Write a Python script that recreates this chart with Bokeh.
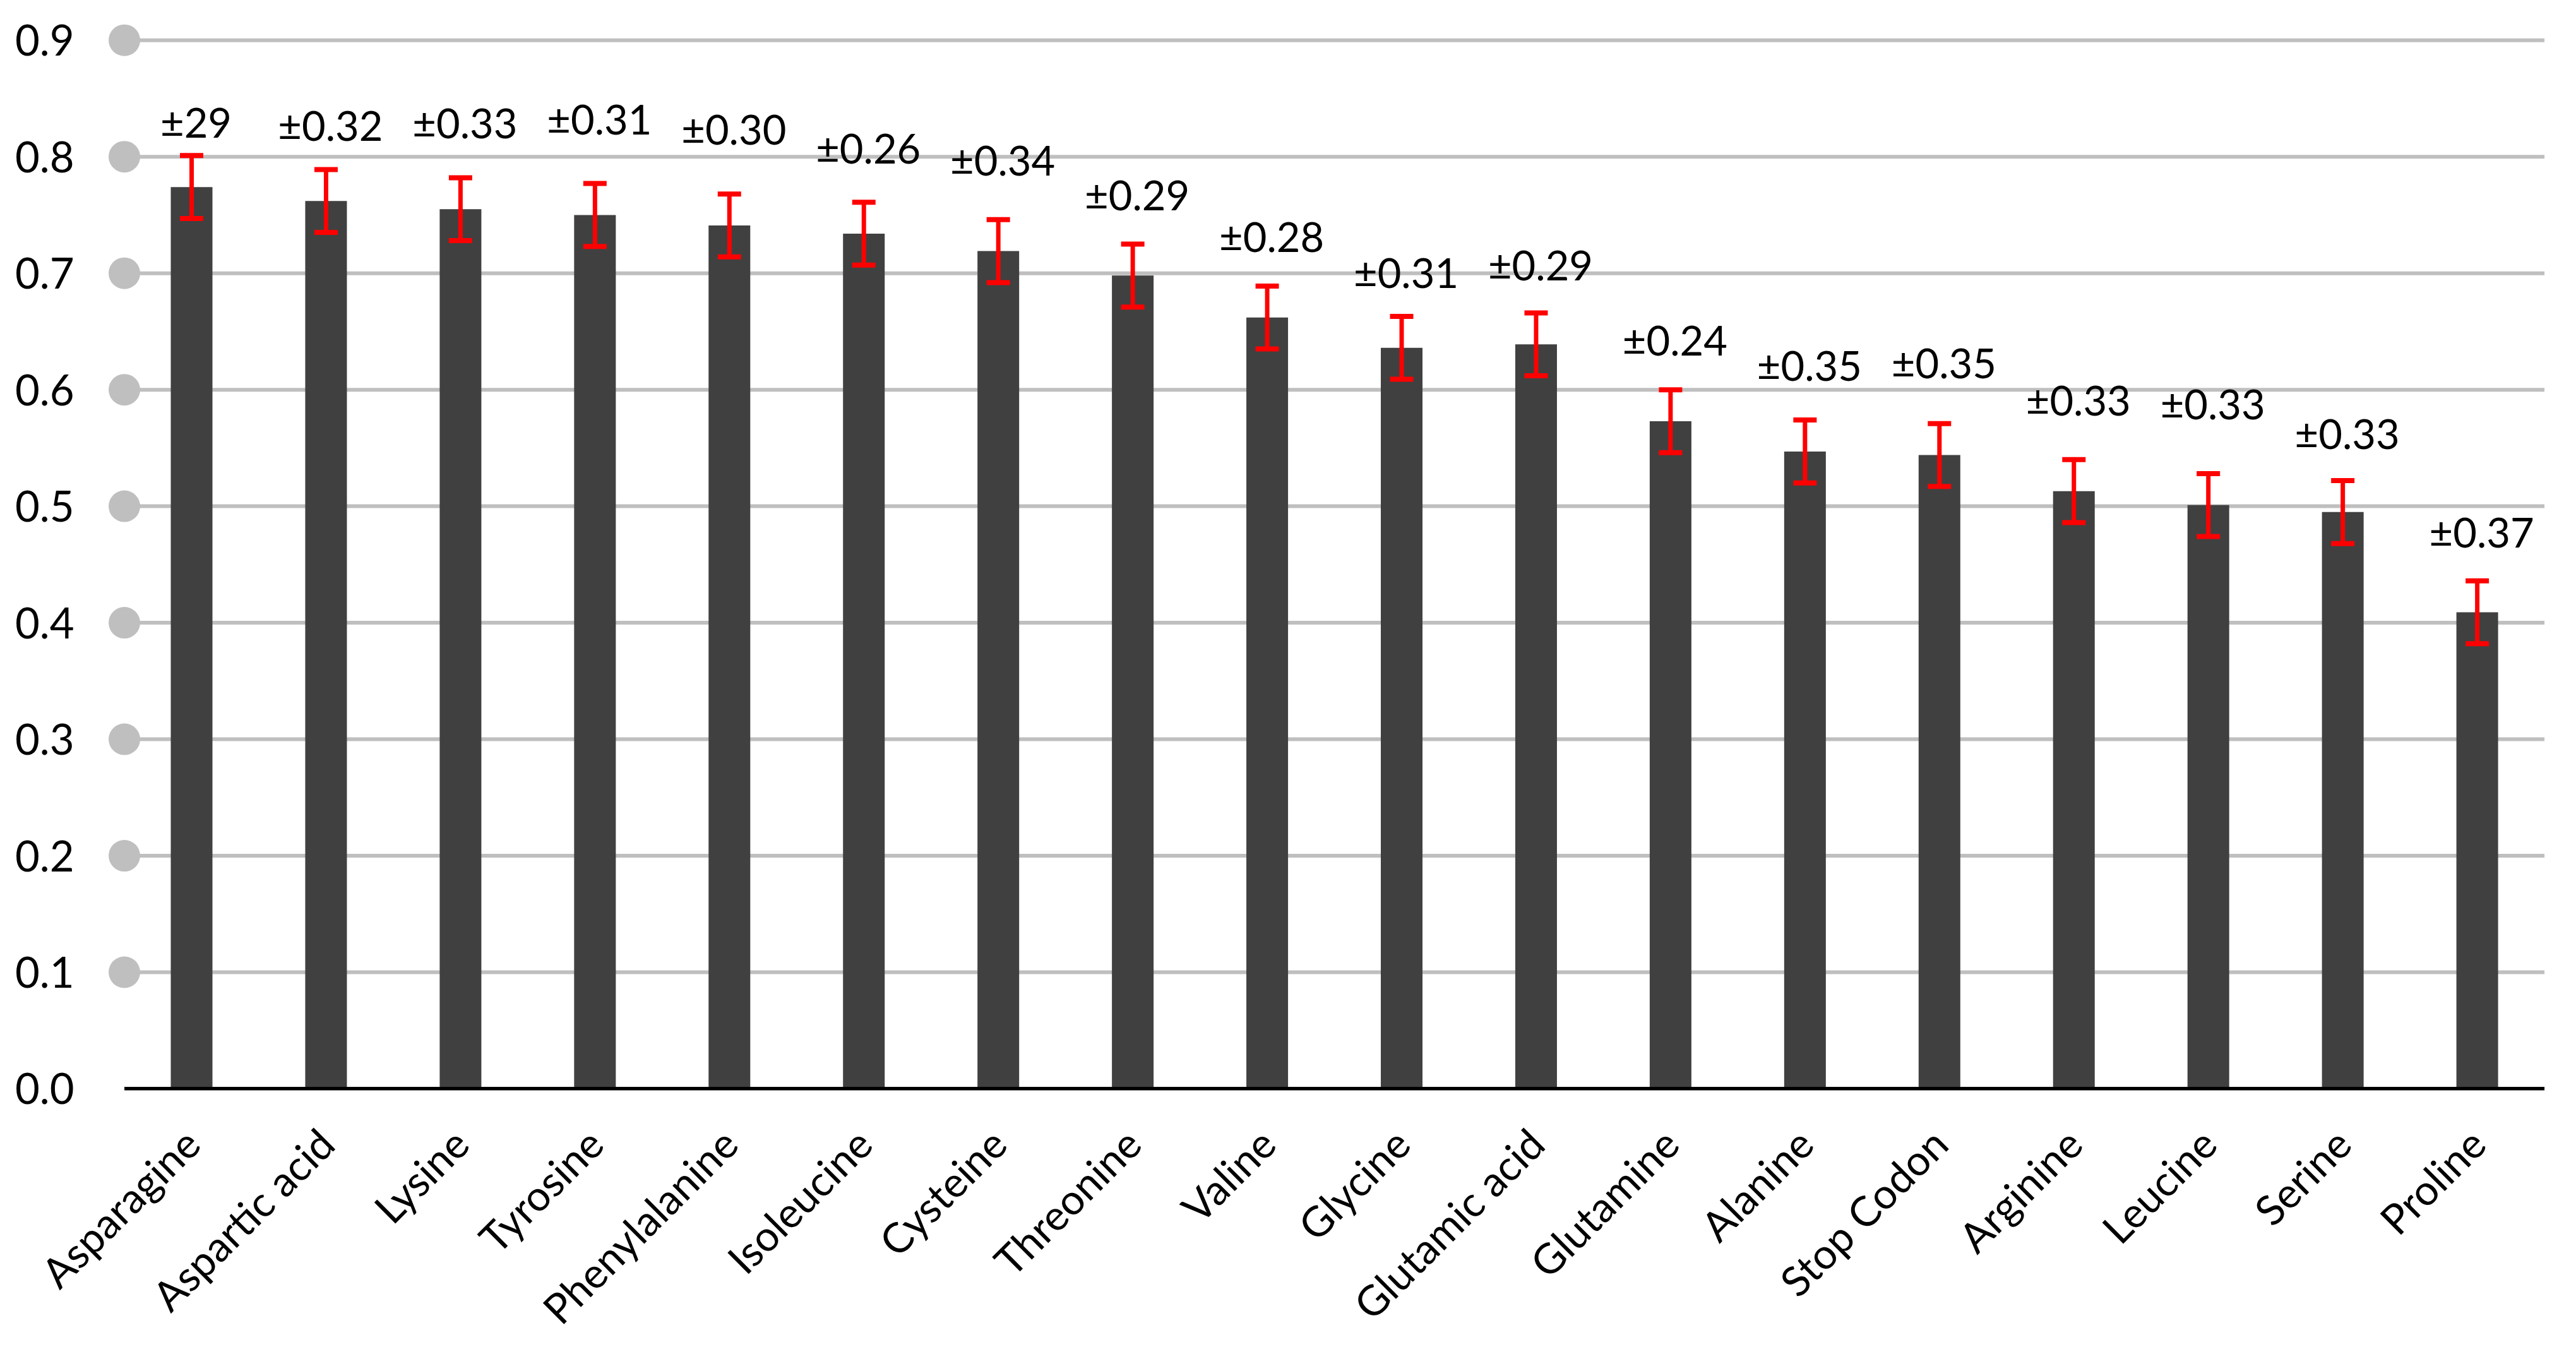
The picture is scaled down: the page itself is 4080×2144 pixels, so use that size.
import math
from bokeh.plotting import figure
from bokeh.models import Range1d, FixedTicker, ColumnDataSource, Whisker, TeeHead, PrintfTickFormatter
from bokeh.core.properties import value
from bokeh.embed import file_html
from bokeh.resources import INLINE

# ---------------- data ----------------
categories = ["Asparagine", "Aspartic acid", "Lysine", "Tyrosine", "Phenylalanine",
              "Isoleucine", "Cysteine", "Threonine", "Valine", "Glycine",
              "Glutamic acid", "Glutamine", "Alanine", "Stop Codon", "Arginine",
              "Leucine", "Serine", "Proline"]
means = [0.774, 0.762, 0.755, 0.750, 0.741, 0.734, 0.719, 0.698, 0.662, 0.636,
         0.639, 0.573, 0.547, 0.544, 0.513, 0.501, 0.495, 0.409]
errors = [0.027, 0.027, 0.027, 0.027, 0.027, 0.027, 0.027, 0.027, 0.027, 0.027,
          0.027, 0.027, 0.027, 0.027, 0.027, 0.027, 0.027, 0.027]
err_labels = ["±29", "±0.32", "±0.33", "±0.31", "±0.30", "±0.26", "±0.34", "±0.29",
              "±0.28", "±0.31", "±0.29", "±0.24", "±0.35", "±0.35", "±0.33", "±0.33",
              "±0.33", "±0.37"]
# baseline height of each annotation (data units, as placed in the original)
label_y = [0.8176, 0.8149, 0.8167, 0.8203, 0.8113, 0.7950, 0.7851, 0.7553, 0.7191,
           0.6885, 0.6951, 0.6306, 0.6089, 0.6107, 0.5791, 0.5755, 0.5504, 0.4654]
y_ticks = [0.0, 0.1, 0.2, 0.3, 0.4, 0.5, 0.6, 0.7, 0.8, 0.9]

# ---------------- derived ----------------
n = len(categories)
xs = [i + 0.5 for i in range(n)]
src = ColumnDataSource(dict(
    x=xs, top=means,
    upper=[m + e for m, e in zip(means, errors)],
    lower=[m - e for m, e in zip(means, errors)],
    lab=err_labels, ly=label_y,
))
grid_src = ColumnDataSource(dict(
    y=y_ticks[1:], x0=[0] * (len(y_ticks) - 1), x1=[n] * (len(y_ticks) - 1)))

FONT = "Lato"
GRID = "#BFBFBF"

p = figure(width=4078, height=2142, output_backend="svg", toolbar_location=None,
           x_range=Range1d(-0.148, n + 0.049), y_range=Range1d(-0.00136, 0.918),
           min_border_left=165, min_border_right=38, min_border_top=30,
           min_border_bottom=416)
p.outline_line_color = None
p.grid.visible = False
p.background_fill_color = "white"
p.border_fill_color = "white"

# gridlines + round end markers
p.segment(x0="x0", y0="y", x1="x1", y1="y", source=grid_src, line_color=GRID, line_width=6)
p.scatter(x="x0", y="y", source=grid_src, size=50, marker="circle",
          fill_color=GRID, line_color=None)

# bars
p.vbar(x="x", top="top", width=0.31, bottom=0, source=src, fill_color="#404040",
       line_color=None)

# baseline
p.segment(x0=[0], y0=[0], x1=[n], y1=[0], line_color="black", line_width=6)

# error bars
wh = Whisker(base="x", upper="upper", lower="lower", source=src, dimension="height",
             line_color="#FF0000", line_width=7, level="annotation",
             upper_head=TeeHead(size=37, line_color="#FF0000", line_width=8),
             lower_head=TeeHead(size=37, line_color="#FF0000", line_width=8))
p.add_layout(wh)

# annotations
p.text(x="x", y="ly", text="lab", source=src, text_align="center",
       text_baseline="alphabetic", text_font=value(FONT), text_font_size="65px",
       text_color="black", x_offset=7, y_offset=-23)

# y axis
p.yaxis.ticker = FixedTicker(ticks=y_ticks)
p.yaxis.formatter = PrintfTickFormatter(format="%.1f")
p.yaxis.axis_line_color = None
p.yaxis.major_tick_line_color = None
p.yaxis.minor_tick_line_color = None
p.yaxis.major_label_text_font = FONT
p.yaxis.major_label_text_font_size = "67px"
p.yaxis.major_label_text_color = "black"
p.yaxis.major_label_standoff = 42

# x axis
p.xaxis.ticker = FixedTicker(ticks=xs)
p.xaxis.major_label_overrides = {x: c for x, c in zip(xs, categories)}
p.xaxis.major_label_orientation = math.pi / 4
p.xaxis.axis_line_color = None
p.xaxis.major_tick_line_color = None
p.xaxis.minor_tick_line_color = None
p.xaxis.major_label_text_font = FONT
p.xaxis.major_label_text_font_size = "66px"
p.xaxis.major_label_text_color = "black"
p.xaxis.major_label_standoff = 66

open("out.html", "w").write(file_html(p, INLINE))
